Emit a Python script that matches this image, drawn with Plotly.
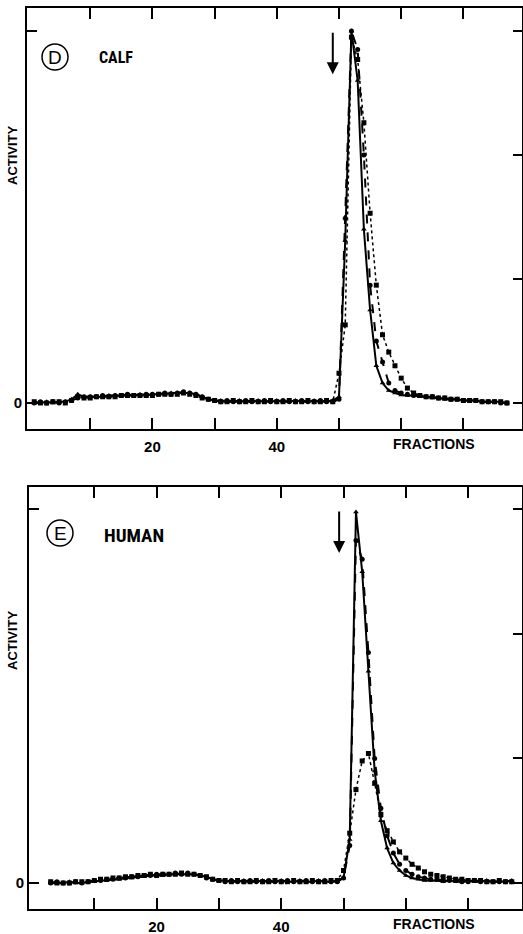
import plotly.graph_objects as go

W, H = 523, 934

# ---------------- data ----------------
frac_D = list(range(1, 78))
D_tri = [0.00, 0.00, 0.01, 0.00, 0.01, 0.01, 0.03, 0.07, 0.05, 0.05,
         0.05, 0.05, 0.06, 0.06, 0.06, 0.06, 0.06, 0.07, 0.06, 0.07,
         0.07, 0.07, 0.08, 0.08, 0.08, 0.08, 0.07, 0.05, 0.03, 0.02,
         0.02, 0.01, 0.01, 0.02, 0.01, 0.01, 0.02, 0.01, 0.01, 0.02,
         0.01, 0.01, 0.02, 0.01, 0.01, 0.02, 0.01, 0.01, 0.02, 0.05,
         1.31, 3.00, 2.60, 1.40, 0.75, 0.30, 0.16, 0.10, 0.08, 0.065,
         0.06, 0.06, 0.05, 0.05, 0.04, 0.04, 0.03, 0.03, 0.03, 0.02,
         0.02, 0.02, 0.01, 0.01, 0.01, 0.01, 0.00]
D_circ = [0.00, 0.01, 0.00, 0.01, 0.00, 0.01, 0.02, 0.04, 0.05, 0.05,
          0.05, 0.06, 0.05, 0.06, 0.06, 0.07, 0.06, 0.06, 0.07, 0.07,
          0.07, 0.08, 0.07, 0.08, 0.09, 0.08, 0.07, 0.05, 0.03, 0.02,
          0.01, 0.02, 0.01, 0.01, 0.02, 0.01, 0.01, 0.02, 0.01, 0.01,
          0.02, 0.01, 0.01, 0.02, 0.01, 0.01, 0.02, 0.01, 0.01, 0.03,
          1.49, 3.00, 2.85, 2.00, 0.95, 0.50, 0.33, 0.16, 0.10, 0.08,
          0.07, 0.06, 0.06, 0.05, 0.05, 0.04, 0.04, 0.03, 0.03, 0.02,
          0.02, 0.02, 0.01, 0.01, 0.01, 0.00, 0.00]
D_sq = [0.01, 0.00, 0.00, 0.01, 0.01, 0.00, 0.02, 0.05, 0.04, 0.04,
        0.05, 0.05, 0.05, 0.05, 0.06, 0.06, 0.06, 0.06, 0.06, 0.06,
        0.07, 0.07, 0.07, 0.07, 0.08, 0.07, 0.06, 0.04, 0.03, 0.02,
        0.01, 0.01, 0.02, 0.01, 0.01, 0.02, 0.01, 0.01, 0.02, 0.01,
        0.01, 0.02, 0.01, 0.01, 0.02, 0.01, 0.01, 0.02, 0.01, 0.24,
        0.63, 2.95, 2.77, 2.26, 1.53, 0.95, 0.55, 0.41, 0.30, 0.20,
        0.12, 0.08, 0.06, 0.05, 0.05, 0.04, 0.04, 0.03, 0.03, 0.02,
        0.02, 0.02, 0.01, 0.01, 0.01, 0.01, 0.00]

frac_E = list(range(3, 78))
E_tri = [0.00, 0.00, 0.00, 0.01, 0.00, 0.00, 0.01, 0.01, 0.02,
         0.02, 0.03, 0.03, 0.04, 0.04, 0.05, 0.05, 0.06, 0.06,
         0.06, 0.07, 0.07, 0.07, 0.07, 0.07, 0.06, 0.05, 0.03,
         0.02, 0.02, 0.01, 0.01, 0.02, 0.01, 0.01, 0.02, 0.01,
         0.01, 0.02, 0.01, 0.01, 0.02, 0.01, 0.01, 0.02, 0.01,
         0.01, 0.02, 0.04, 0.35, 2.98, 2.50, 1.70, 0.90, 0.50,
         0.28, 0.16, 0.10, 0.06, 0.04, 0.03, 0.02, 0.02, 0.02,
         0.01, 0.02, 0.01, 0.01, 0.02, 0.01, 0.01, 0.02, 0.01,
         0.01, 0.01, 0.02]
E_circ = [0.00, 0.01, 0.00, 0.00, 0.01, 0.00, 0.01, 0.02, 0.02,
          0.03, 0.03, 0.04, 0.04, 0.05, 0.05, 0.06, 0.06, 0.07,
          0.07, 0.07, 0.08, 0.07, 0.08, 0.07, 0.06, 0.04, 0.03,
          0.02, 0.01, 0.02, 0.01, 0.01, 0.02, 0.01, 0.01, 0.02,
          0.01, 0.01, 0.02, 0.01, 0.01, 0.02, 0.01, 0.01, 0.02,
          0.01, 0.01, 0.04, 0.30, 2.75, 2.60, 1.85, 1.00, 0.60,
          0.38, 0.24, 0.15, 0.10, 0.07, 0.05, 0.04, 0.03, 0.03,
          0.02, 0.02, 0.02, 0.01, 0.01, 0.02, 0.01, 0.01, 0.01,
          0.01, 0.01, 0.01]
E_sq = [0.01, 0.00, 0.00, 0.00, 0.01, 0.01, 0.01, 0.02, 0.03,
        0.03, 0.04, 0.04, 0.05, 0.05, 0.06, 0.06, 0.07, 0.06,
        0.07, 0.07, 0.07, 0.08, 0.07, 0.07, 0.06, 0.05, 0.03,
        0.02, 0.02, 0.01, 0.02, 0.01, 0.01, 0.02, 0.01, 0.01,
        0.02, 0.01, 0.01, 0.02, 0.01, 0.01, 0.02, 0.01, 0.01,
        0.02, 0.02, 0.10, 0.40, 0.75, 0.98, 1.04, 0.80, 0.55,
        0.42, 0.33, 0.25, 0.20, 0.15, 0.12, 0.09, 0.07, 0.06,
        0.05, 0.04, 0.03, 0.03, 0.02, 0.02, 0.02, 0.01, 0.01,
        0.02, 0.01, 0.01]

x_tickvals = [10, 20, 30, 40, 50, 60, 70]
x_ticktext = ["", "<b>20</b>", "", "<b>40</b>", "", "", ""]
y_tickvals_left = [0, 3]
y_ticktext_left = ["<b>0</b>", ""]
y_tickvals_right = [0, 1, 2, 3]

panels = [
    dict(letter="D", name="CALF", name_size=16, x=frac_D, tri=D_tri, circ=D_circ, sq=D_sq,
         px_left=27, px_right=522, px_top=8, px_bottom=429,
         circ_c=(55, 57), name_x=97, name_y=57, act_y=155,
         xrange=[-0.16, 79.42], yrange=[-0.21, 3.185], arrow_x=49, arrow_tip=2.65),
    dict(letter="E", name="HUMAN", name_size=19, x=frac_E, tri=E_tri, circ=E_circ, sq=E_sq,
         px_left=29, px_right=522, px_top=487, px_bottom=909,
         circ_c=(60, 533), name_x=102, name_y=535, act_y=640,
         xrange=[-0.48, 78.65], yrange=[-0.209, 3.18], arrow_x=49.3, arrow_tip=2.65),
]

CONDENSED = "Roboto Condensed, Liberation Sans Narrow, Arial Narrow, Liberation Sans, sans-serif"
NUMFONT = "Liberation Sans, Arial, sans-serif"

fig = go.Figure()
layout = dict(width=W, height=H, margin=dict(l=0, r=0, t=0, b=0),
              paper_bgcolor="white", plot_bgcolor="white", showlegend=False)
annotations = []
shapes = []

for i, p in enumerate(panels):
    xa = "x" if i == 0 else "x2"
    ya = "y" if i == 0 else "y3"
    yr = "y2" if i == 0 else "y4"
    xdom = [p["px_left"] / W, p["px_right"] / W]
    ydom = [1 - p["px_bottom"] / H, 1 - p["px_top"] / H]

    fig.add_trace(go.Scatter(x=p["x"], y=p["sq"], mode="lines+markers", xaxis=xa, yaxis=ya,
                             line=dict(color="black", width=1.5, dash="dot"),
                             marker=dict(symbol="square", size=5, color="black")))
    fig.add_trace(go.Scatter(x=p["x"], y=p["circ"], mode="lines+markers", xaxis=xa, yaxis=ya,
                             line=dict(color="black", width=2, dash="dash"),
                             marker=dict(symbol="circle", size=5, color="black")))
    fig.add_trace(go.Scatter(x=p["x"], y=p["tri"], mode="lines+markers", xaxis=xa, yaxis=ya,
                             line=dict(color="black", width=2),
                             marker=dict(symbol="triangle-up", size=5, color="black")))

    xkey = "xaxis" if i == 0 else "xaxis2"
    ykey = "yaxis" if i == 0 else "yaxis3"
    yrkey = "yaxis2" if i == 0 else "yaxis4"
    layout[xkey] = dict(domain=xdom, range=p["xrange"], anchor=ya,
                        tickvals=x_tickvals, ticktext=x_ticktext,
                        ticks="inside", ticklen=11, tickwidth=2, tickcolor="black",
                        showline=True, linewidth=2, linecolor="black", mirror="ticks",
                        showgrid=False, zeroline=False,
                        tickfont=dict(family=NUMFONT, size=15, color="black"),
                        ticklabelstandoff=3)
    layout[ykey] = dict(domain=ydom, range=p["yrange"], anchor=xa,
                        tickvals=y_tickvals_left, ticktext=y_ticktext_left,
                        ticks="inside", ticklen=10, tickwidth=2, tickcolor="black",
                        showline=True, linewidth=2, linecolor="black", mirror=True,
                        showgrid=False, zeroline=False,
                        tickfont=dict(family=NUMFONT, size=15, color="black"))
    layout[yrkey] = dict(domain=ydom, range=p["yrange"], anchor=xa, overlaying=ya, side="right",
                         tickvals=y_tickvals_right, showticklabels=False,
                         ticks="inside", ticklen=9, tickwidth=2, tickcolor="black",
                         showline=False, showgrid=False, zeroline=False)
    fig.add_trace(go.Scatter(x=[p["x"][0]], y=[p["tri"][0]], mode="markers", xaxis=xa, yaxis=yr,
                             marker=dict(size=1, color="rgba(0,0,0,0)"), hoverinfo="skip"))

    # elution arrow
    annotations.append(dict(x=p["arrow_x"], y=p["arrow_tip"], xref=xa, yref=ya,
                            showarrow=True, ax=0, ay=-43, arrowhead=2, arrowsize=1.2,
                            arrowwidth=2, arrowcolor="black", text=""))
    # circled panel letter
    cx, cy = p["circ_c"]
    r = 13
    shapes.append(dict(type="circle", xref="paper", yref="paper",
                       x0=(cx - r) / W, x1=(cx + r) / W,
                       y0=1 - (cy + r) / H, y1=1 - (cy - r) / H,
                       line=dict(color="black", width=1.5)))
    annotations.append(dict(x=cx / W, y=1 - cy / H, xref="paper", yref="paper", showarrow=False,
                            text=p["letter"], xanchor="center", yanchor="middle",
                            font=dict(family=NUMFONT, size=19, color="black")))
    annotations.append(dict(x=p["name_x"] / W, y=1 - p["name_y"] / H, xref="paper", yref="paper",
                            showarrow=False, text="<b>" + p["name"] + "</b>",
                            xanchor="left", yanchor="middle",
                            font=dict(family=CONDENSED, size=p["name_size"], color="black")))
    annotations.append(dict(x=12 / W, y=1 - p["act_y"] / H,
                            xref="paper", yref="paper", showarrow=False, textangle=-90,
                            text="<b>ACTIVITY</b>", xanchor="center", yanchor="middle",
                            font=dict(family=NUMFONT, size=13, color="black")))
    annotations.append(dict(x=434 / W, y=1 - (p["px_bottom"] + 15) / H,
                            xref="paper", yref="paper", showarrow=False,
                            text="<b>FRACTIONS</b>", xanchor="center", yanchor="middle",
                            font=dict(family=NUMFONT, size=14, color="black")))

layout["annotations"] = annotations
layout["shapes"] = shapes
fig.update_layout(**layout)
fig.write_html("out.html", config={"displayModeBar": False},
               post_script="document.body.style.margin='0px';document.body.style.overflow='hidden';")
